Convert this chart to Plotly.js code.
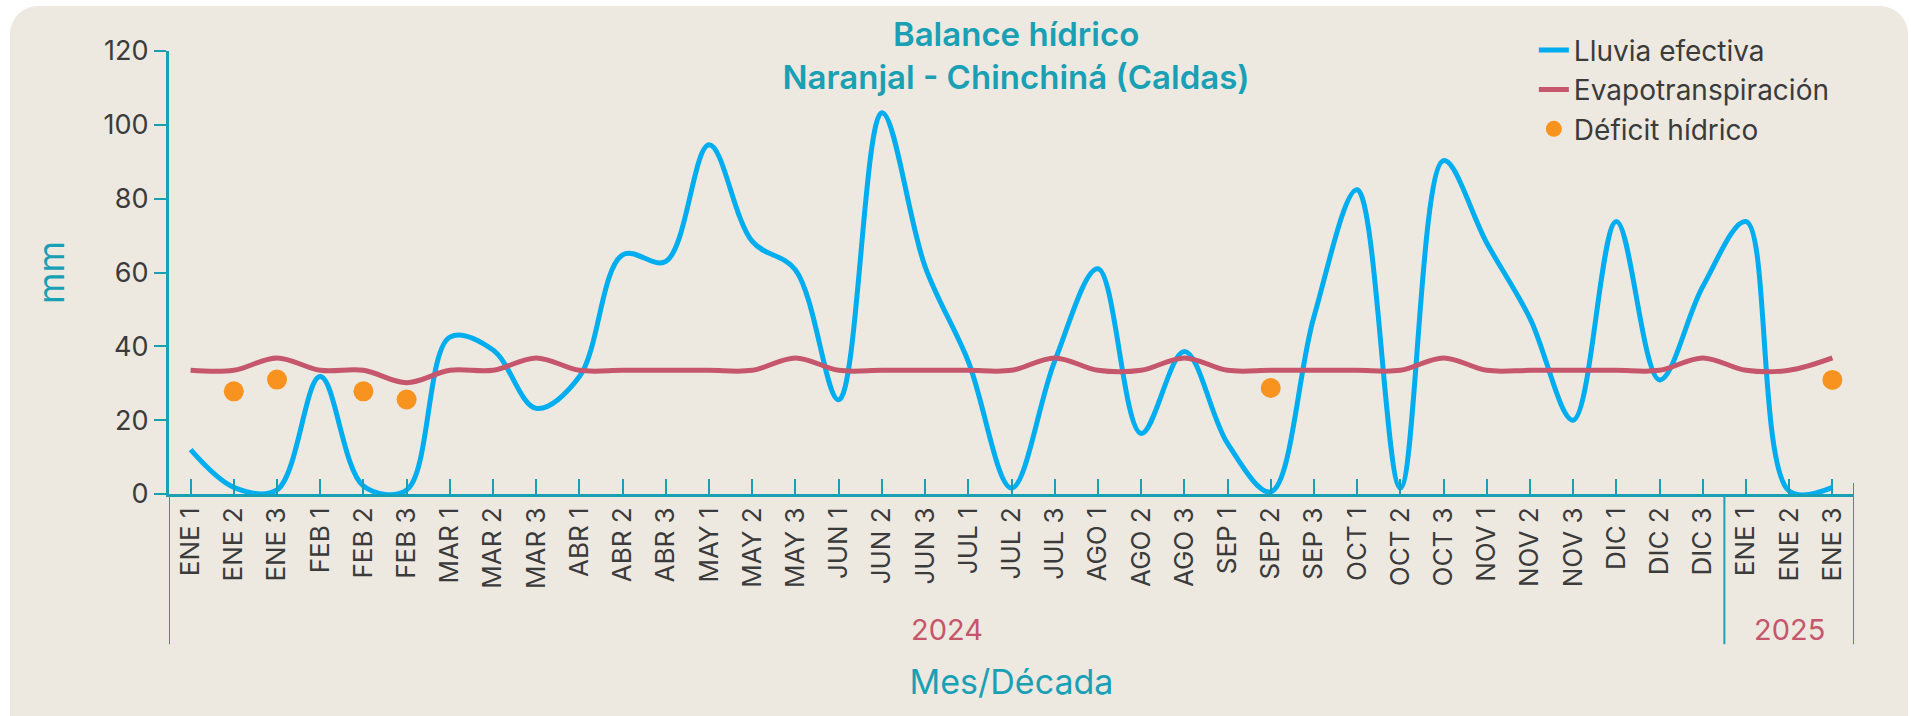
<!DOCTYPE html>
<html>
<head>
<meta charset="utf-8">
<script src="https://cdn.plot.ly/plotly-3.0.1.min.js"></script>
<style>
  html, body { margin:0; padding:0; background:#ffffff; width:1911px; height:716px; overflow:hidden; }
  #card { position:absolute; left:10px; top:6px; width:1898px; height:760px; background:#EDE9E1; border-radius:28px; }
  #chart { position:absolute; left:0; top:0; width:1911px; height:716px; }
</style>
</head>
<body>
<div id="card"></div>
<div id="chart"></div>
<script>
// ---- data ----
const decadas = ["ENE 1","ENE 2","ENE 3","FEB 1","FEB 2","FEB 3","MAR 1","MAR 2","MAR 3","ABR 1","ABR 2","ABR 3",
  "MAY 1","MAY 2","MAY 3","JUN 1","JUN 2","JUN 3","JUL 1","JUL 2","JUL 3","AGO 1","AGO 2","AGO 3",
  "SEP 1","SEP 2","SEP 3","OCT 1","OCT 2","OCT 3","NOV 1","NOV 2","NOV 3","DIC 1","DIC 2","DIC 3",
  "ENE 1","ENE 2","ENE 3"];
const anios = ["2024","2024","2024","2024","2024","2024","2024","2024","2024","2024","2024","2024",
  "2024","2024","2024","2024","2024","2024","2024","2024","2024","2024","2024","2024",
  "2024","2024","2024","2024","2024","2024","2024","2024","2024","2024","2024","2024",
  "2025","2025","2025"];
const lluviaEfectiva = [12, 1.8, 1.1, 31.8, 2.2, 1.1, 42.5, 39, 23.2, 31.8, 64.8, 63,
  94.6, 68.4, 60.7, 25.5, 103.3, 61.6, 35.9, 1.6, 36, 61, 16.4, 38.6,
  13.7, 0.6, 48, 82.4, 1.6, 90.3, 68, 47.6, 20, 73.8, 30.9, 56.2,
  73.8, 0.8, 1.8];
const evapotranspiracion = [33.5, 33.5, 36.85, 33.5, 33.5, 30.15, 33.5, 33.5, 36.85, 33.5, 33.5, 33.5,
  33.5, 33.5, 36.85, 33.5, 33.5, 33.5, 33.5, 33.5, 36.85, 33.5, 33.5, 36.85,
  33.5, 33.5, 33.5, 33.5, 33.5, 36.85, 33.5, 33.5, 33.5, 33.5, 33.5, 36.85,
  33.5, 33.5, 36.85];
const deficitHidrico = [null, 27.8, 31, null, 27.8, 25.6, null, null, null, null, null, null,
  null, null, null, null, null, null, null, null, null, null, null, null,
  null, 28.7, null, null, null, null, null, null, null, null, null, null,
  null, null, 30.9];
const yTicks = [0, 20, 40, 60, 80, 100, 120];

// ---- styling ----
const FONT = "Inter, 'Open Sans', sans-serif";
const TEAL = "#1AA0B5";
const C_LLUVIA = "#00AEEF";
const C_EVAPO = "#C5566B";
const C_DEF = "#F7931E";
const C_TEXT = "#3B3B3B";

const idx = decadas.map((_, i) => i);

const traces = [
  { x: idx, y: lluviaEfectiva, type: "scatter", mode: "lines", name: "Lluvia efectiva",
    line: { color: C_LLUVIA, width: 5, shape: "spline", smoothing: 1 } },
  { x: idx, y: evapotranspiracion, type: "scatter", mode: "lines", name: "Evapotranspiración",
    line: { color: C_EVAPO, width: 5, shape: "spline", smoothing: 1 } },
  { x: idx, y: deficitHidrico, type: "scatter", mode: "markers", name: "Déficit hídrico",
    marker: { color: C_DEF, size: 20 } }
];

// year groups -> dividers and labels
const groups = [];
anios.forEach((a, i) => {
  if (!groups.length || groups[groups.length - 1].year !== a) groups.push({ year: a, start: i, end: i });
  else groups[groups.length - 1].end = i;
});
const shapes = [];
const annotations = [];
groups.forEach((g) => {
  shapes.push({ type: "line", xref: "x", yref: "paper", x0: g.start - 0.5, x1: g.start - 0.5,
    y0: 0, y1: -0.339, line: { color: TEAL, width: 2 } });
  annotations.push({ xref: "x", yref: "paper", x: (g.start + g.end) / 2, y: -0.305,
    text: g.year, showarrow: false, font: { family: FONT, size: 29, color: C_EVAPO },
    xanchor: "center", yanchor: "middle" });
});
const last = groups[groups.length - 1];
shapes.push({ type: "line", xref: "x", yref: "paper", x0: last.end + 0.5, x1: last.end + 0.5,
  y0: 0.025, y1: -0.339, line: { color: TEAL, width: 2 } });

const layout = {
  width: 1911, height: 716,
  margin: { l: 169, r: 57, t: 51, b: 222 },
  paper_bgcolor: "rgba(0,0,0,0)",
  plot_bgcolor: "rgba(0,0,0,0)",
  font: { family: FONT, color: C_TEXT },
  title: {
    text: "Balance hídrico<br>Naranjal - Chinchiná (Caldas)",
    font: { family: FONT, size: 33, color: TEAL, weight: 600 },
    xref: "container", x: 0.5317, xanchor: "center",
    yref: "container", y: 0.936, yanchor: "top"
  },
  showlegend: true,
  legend: {
    x: 0.81, xanchor: "left", y: 1.058, yanchor: "top",
    bgcolor: "rgba(0,0,0,0)", borderwidth: 0,
    font: { family: FONT, size: 28 },
    itemwidth: 30
  },
  xaxis: {
    type: "linear", range: [-0.5, decadas.length - 0.5],
    tickmode: "array", tickvals: idx, ticktext: decadas, tickangle: -90,
    ticks: "inside", ticklen: 15, tickwidth: 2, tickcolor: TEAL,
    showline: true, linecolor: TEAL, linewidth: 3,
    showgrid: false, zeroline: false,
    tickfont: { family: FONT, size: 26, color: C_TEXT },
    title: { text: "Mes/Década", font: { family: FONT, size: 34, color: TEAL }, standoff: 83 },
    automargin: false
  },
  yaxis: {
    range: [0, 120], tickmode: "array", tickvals: yTicks,
    ticks: "outside", ticklen: 12, tickwidth: 2, tickcolor: TEAL,
    showline: true, linecolor: TEAL, linewidth: 3,
    showgrid: false, zeroline: false,
    tickfont: { family: FONT, size: 27, color: C_TEXT },
    title: { text: "mm", font: { family: FONT, size: 36, color: TEAL }, standoff: 28 },
    automargin: false
  },
  shapes: shapes,
  annotations: annotations
};

Plotly.newPlot("chart", traces, layout, { displayModeBar: false, staticPlot: true });
</script>
</body>
</html>
